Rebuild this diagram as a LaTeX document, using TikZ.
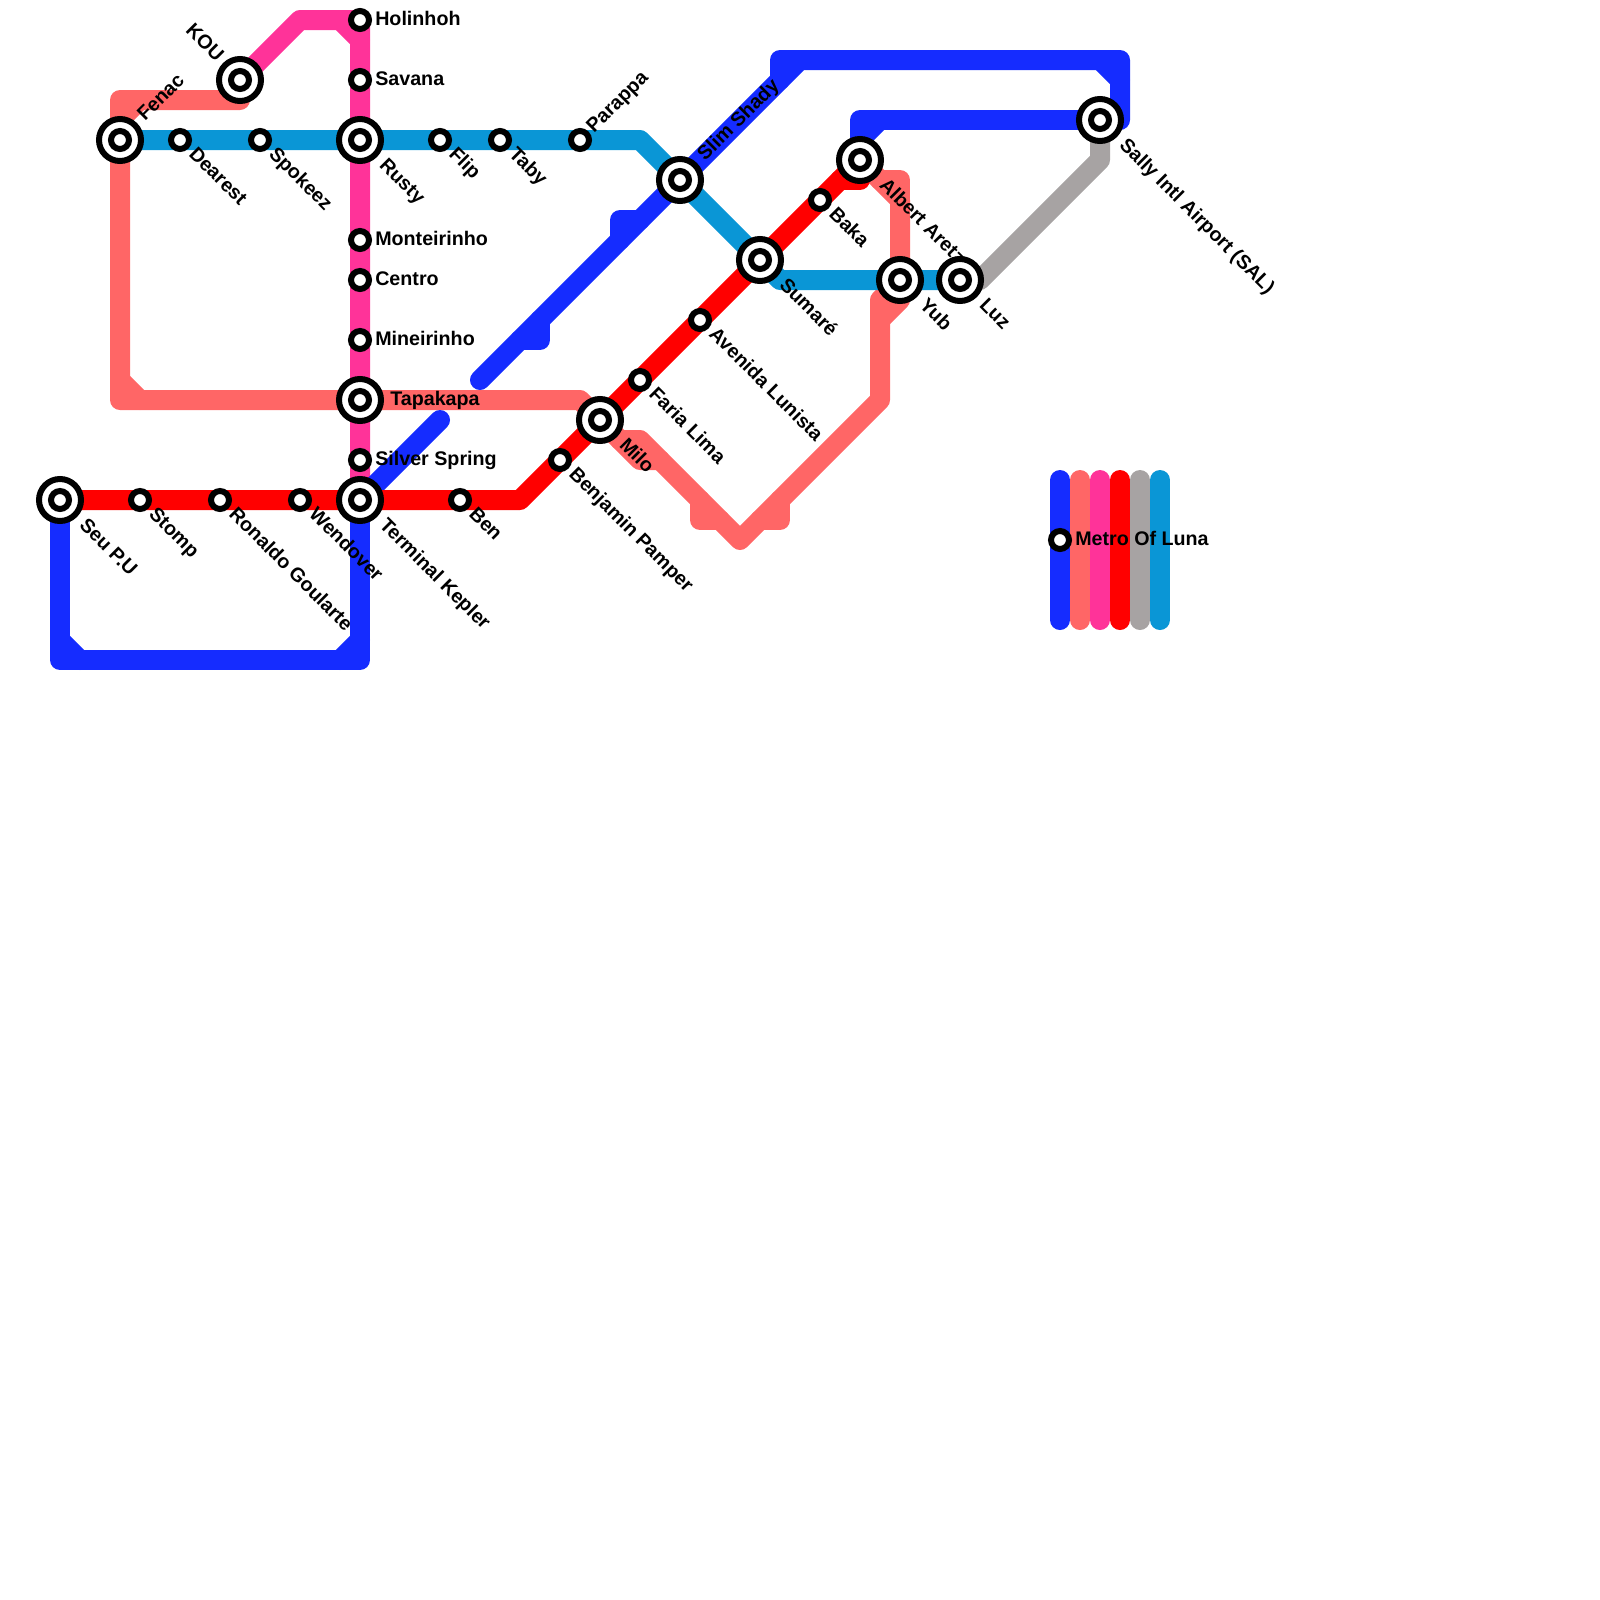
\documentclass[tikz,border=0pt]{standalone}
\usepackage{fontspec}
\setmainfont{Liberation Sans}
\usetikzlibrary{backgrounds}
\definecolor{lineblue}{RGB}{21,44,255}
\definecolor{linecoral}{RGB}{255,102,102}
\definecolor{linepink}{RGB}{255,51,153}
\definecolor{linered}{RGB}{255,0,0}
\definecolor{linegrey}{RGB}{167,163,163}
\definecolor{linecyan}{RGB}{10,150,214}
\tikzset{
  metro/.style={line width=0.5cm, line cap=round, line join=round},
  stop/.style={circle, draw=black, fill=white, line width=0.15cm, minimum size=0.45cm, inner sep=0pt, outer sep=0pt},
  hub/.style={circle, draw=black, fill=white, line width=0.15cm, minimum size=1.05cm, inner sep=0pt, outer sep=0pt,
    label={[stop]center:{}}},
  textbase/.style={font=\bfseries\fontsize{14}{14}\selectfont, inner sep=0pt},
  texte/.style={textbase, anchor=base west, xshift=0.375cm, yshift=-0.125cm},
  textse/.style={textbase, anchor=base west, xshift=0.2cm, yshift=-0.375cm, rotate=-45},
  texthub/.style={textbase, anchor=base west, xshift=0.46cm, yshift=-0.65cm, rotate=-45},
  textne/.style={textbase, anchor=base west, xshift=0.35cm, yshift=0.15cm, rotate=45},
  texthubne/.style={textbase, anchor=base west, xshift=0.625cm, yshift=0.45cm, rotate=45},
}
\begin{document}
\begin{tikzpicture}[x=0.5cm, y=-0.5cm]
  \useasboundingbox (0,0) rectangle (80,80);
  % stops with a plain label
  \foreach \x/\y/\id/\kind/\name in {
      18/1/holinhoh/texte/{Holinhoh},
      18/4/savana/texte/{Savana},
      18/12/monteirinho/texte/{Monteirinho},
      18/14/centro/texte/{Centro},
      18/17/mineirinho/texte/{Mineirinho},
      18/23/silver/texte/{Silver Spring},
      53/27/legend/texte/{Metro Of Luna},
      9/7/dearest/textse/{Dearest},
      13/7/spokeez/textse/{Spokeez},
      22/7/flip/textse/{Flip},
      25/7/taby/textse/{Taby},
      7/25/stomp/textse/{Stomp},
      11/25/ronaldo/textse/{Ronaldo Goularte},
      15/25/wendover/textse/{Wendover},
      23/25/ben/textse/{Ben},
      28/23/benjamin/textse/{Benjamin Pamper},
      32/19/faria/textse/{Faria Lima},
      35/16/avenida/textse/{Avenida Lunista},
      41/10/baka/textse/{Baka},
      29/7/parappa/textne/{Parappa}} {
    \node[stop] (\id) at (\x,\y) {};
    \node[\kind] (\id-text) at (\x,\y) {\name};
  }
  % interchanges
  \foreach \x/\y/\id/\kind/\name in {
      18/7/rusty/texthub/{Rusty},
      18/25/kepler/texthub/{Terminal Kepler},
      3/25/seu/texthub/{Seu P.U},
      30/21/milo/texthub/{Milo},
      38/13/sumare/texthub/{Sumaré},
      43/8/albert/texthub/{Albert Aretz},
      45/14/yub/texthub/{Yub},
      48/14/luz/texthub/{Luz},
      55/6/sally/texthub/{Sally Intl Airport (SAL)},
      6/7/fenac/texthubne/{Fenac},
      34/9/slim/texthubne/{Slim Shady}} {
    \node[hub] (\id) at (\x,\y) {};
    \node[\kind] (\id-text) at (\x,\y) {\name};
  }
  \node[hub] (tapakapa) at (18,20) {};
  \node[textbase, anchor=base west, xshift=0.75cm, yshift=-0.125cm] (tapakapa-text) at (18,20) {Tapakapa};
  \node[hub] (kou) at (12,4) {};
  \node[textbase, anchor=base east, xshift=-0.6cm, yshift=0.425cm, rotate=-45] (kou-text) at (12,4) {KOU};

  % loose ends
  \coordinate (blueend) at (24,19);
  \coordinate (spurend) at (22,21);
  \coordinate (coralend) at (12,5);
  \foreach \x/\id in {53/a,54/b,55/c,56/d,57/e,58/f} {
    \coordinate (key\id top) at (\x,24);
    \coordinate (key\id bot) at (\x,31);
  }

  \begin{scope}[on background layer]
    \draw[metro, linecoral] (coralend) -- (6,5) -- (fenac.center) -- (6,20) -- (29,20) -- (milo.center);
    \draw[metro, linecoral] (6,6) -- (7,5);
    \draw[metro, linecoral] (6,19) -- (7,20);
    \draw[metro, linecoral] (milo.center) -- (32,23) -- (33,23);
    \draw[metro, linecoral] (31,22) -- (32,22) -- (37,27) -- (44,20) -- (44,15) -- (yub.center);
    \draw[metro, linecoral] (35,25) -- (35,26) -- (36,26);
    \draw[metro, linecoral] (38,26) -- (39,26) -- (39,25);
    \draw[metro, linecoral] (44,16) -- (45,15) -- (yub.center);
    \draw[metro, linecoral] (albert.center) -- (45,10) -- (yub.center);
    \draw[metro, linecoral] (44,9) -- (45,9) -- (45,10);

    \draw[metro, linecyan] (fenac.center) -- (32,7) -- (slim.center) -- (sumare.center) -- (39,14) -- (luz.center);

    \draw[metro, linepink] (kou.center) -- (15,1) -- (holinhoh.center) -- (kepler.center);
    \draw[metro, linepink] (17,1) -- (18,2);

    \draw[metro, linegrey] (luz.center) -- (49,14) -- (55,8) -- (sally.center);

    \draw[metro, lineblue] (blueend) -- (40,3) -- (56,3) -- (56,6) -- (sally.center);
    \draw[metro, lineblue] (55,3) -- (56,4);
    \draw[metro, lineblue] (39,4) -- (39,3) -- (40,3);
    \draw[metro, lineblue] (31,12) -- (31,11) -- (32,11);
    \draw[metro, lineblue] (26,17) -- (27,17) -- (27,16);
    \draw[metro, lineblue] (albert.center) -- (43,6) -- (sally.center);
    \draw[metro, lineblue] (43,7) -- (44,6);
    \draw[metro, lineblue] (seu.center) -- (3,33) -- (18,33) -- (kepler.center);
    \draw[metro, lineblue] (3,32) -- (4,33);
    \draw[metro, lineblue] (17,33) -- (18,32);
    \draw[metro, lineblue] (kepler.center) -- (spurend);

    \draw[metro, linered] (seu.center) -- (26,25) -- (albert.center);
    \draw[metro, linered] (42,9) -- (43,9) -- (albert.center);

    \foreach \id/\col in {a/lineblue,b/linecoral,c/linepink,d/linered,e/linegrey,f/linecyan}
      \draw[metro, \col] (key\id top) -- (key\id bot);
  \end{scope}
\end{tikzpicture}
\end{document}
